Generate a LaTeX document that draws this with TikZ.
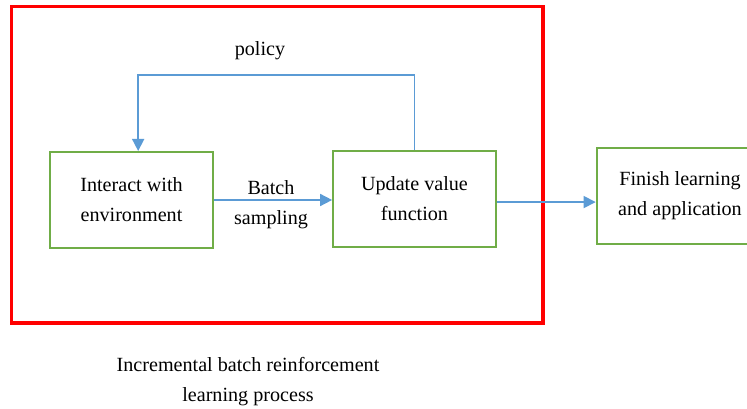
\documentclass[tikz,border=0pt]{standalone}
\usepackage{fontspec}
\setmainfont{Liberation Serif}
\usetikzlibrary{arrows.meta}

\definecolor{boxgreen}{RGB}{112,173,71}
\definecolor{flowblue}{RGB}{91,155,213}

\tikzset{every picture/.style={line width=0.75pt}}
\tikzset{
  stagebox/.style={draw=boxgreen, line width=1.5pt, minimum width=122pt, minimum height=72pt, align=center, inner sep=0.75pt, font=\fontsize{15.1}{22.5}\selectfont},
  flow/.style={draw=flowblue, line width=1.2pt, -{Triangle[length=9pt,width=9pt]}},
  plain/.style={inner sep=0.75pt, align=center, font=\fontsize{15.1}{22.5}\selectfont}
}

\begin{document}
\begin{tikzpicture}[x=0.75pt,y=0.75pt,yscale=-1,xscale=1]
\useasboundingbox (0,0) rectangle (747,409);

%Shape: Rectangle [id:frame]
\draw [color=red, line width=2.6pt] (11.5,6.5) rectangle (543,323);

%Shape: Rectangle [id:interact]
\node [stagebox] (interact) at (131.5,200) {Interact with\\environment};
%Shape: Rectangle [id:update]
\node [stagebox] (update) at (414.5,199) {Update value\\function};
%Shape: Rectangle [id:finish]
\node [stagebox, minimum width=125pt] (finish) at (680,196) {Finish learning\\and application};

%Straight Lines [id:sampling]
\draw [flow] (interact.east) -- (interact.east -| update.west);
%Straight Lines [id:finishing]
\coordinate (outstart) at ([yshift=2.3pt]update.east);
\draw [flow] (outstart) -- (outstart -| finish.west);
%Connector [id:policyloop]
\coordinate (loopend) at ([xshift=5pt]interact.north);
\draw [flow] (update.north) -- ++(0,-75) -| (loopend);

% Text Node
\node [plain] (policy) at (260,50.5) {policy};
% Text Node
\node [plain] (batch) at (271,205) {Batch\\sampling};
% Text Node
\node [plain] (caption) at (248,382) {Incremental batch reinforcement\\learning process};

\end{tikzpicture}
\end{document}
